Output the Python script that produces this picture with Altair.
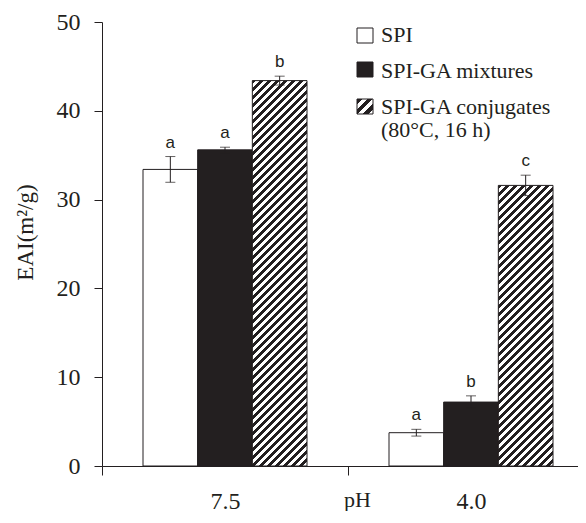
import altair as alt
import pandas as pd

# ---------------- data ----------------
ph_levels = ["7.5", "4.0"]
groups = ["SPI", "SPI-GA mixtures", "SPI-GA conjugates"]
eai_ph75 = [33.4, 35.6, 43.4]
eai_ph40 = [3.75, 7.2, 31.6]
err_ph75 = [1.45, 0.3, 0.5]
err_ph40 = [0.38, 0.7, 1.15]
letters_ph75 = ["a", "a", "b"]
letters_ph40 = ["a", "b", "c"]
y_ticks = [0, 10, 20, 30, 40, 50]
legend_labels = ["SPI", "SPI-GA mixtures", ["SPI-GA conjugates", "(80°C, 16 h)"]]

rows = []
for ph, vals, errs, lets in [("7.5", eai_ph75, err_ph75, letters_ph75),
                             ("4.0", eai_ph40, err_ph40, letters_ph40)]:
    for g, v, e, l in zip(groups, vals, errs, lets):
        rows.append(dict(pH=ph, group=g, eai=v, lo=v - e, hi=v + e, letter=l))
df = pd.DataFrame(rows)

# ---------------- style / layout ----------------
INK = "#231f20"
SERIF = "Liberation Serif"
SANS = "Liberation Sans"
W, H = 476, 444
STEP = 246
PX_PER_UNIT = H / 50.0
BAR_W = STEP / 4.5


def hatch(w, h, period=8.0, black=0.45):
    """Diagonal '/' stripes as a hard-stop linear gradient (bbox units)."""
    n = (w + h) / period
    s = (w + h) / (w * w + h * h)
    stops = []
    k = 0
    while k < n:
        a = k / n
        b = min((k + black) / n, 1.0)
        c = min((k + 1) / n, 1.0)
        stops += [{"offset": a, "color": INK}, {"offset": b, "color": INK}]
        if b < 1.0:
            stops += [{"offset": b, "color": "white"}, {"offset": c, "color": "white"}]
        k += 1
    return {"gradient": "linear", "x1": 0, "y1": 0, "x2": w * s, "y2": h * s, "stops": stops}


x_enc = alt.X(
    "pH:N",
    scale=alt.Scale(domain=ph_levels, range=[0, 2 * STEP], paddingInner=0, paddingOuter=0),
    axis=alt.Axis(
        tickBand="extent", tickSize=9, tickColor=INK, domainColor=INK,
        labelFont=SERIF, labelFontSize=24, labelColor=INK, labelAngle=0, labelPadding=14,
        title="pH", titleFont=SERIF, titleFontSize=22, titleFontWeight="normal",
        titleColor=INK, titleX=255, titleY=40, titleBaseline="alphabetic", titleAlign="center",
    ),
)
xo_enc = alt.XOffset("group:N", scale=alt.Scale(domain=groups, paddingInner=0, paddingOuter=0.75))
y_scale = alt.Scale(domain=[0, 50], nice=False)
y_enc = alt.Y(
    "eai:Q",
    scale=y_scale,
    axis=alt.Axis(
        values=y_ticks, tickSize=8, tickColor=INK, domainColor=INK, grid=False,
        labelFont=SERIF, labelFontSize=24, labelColor=INK, labelPadding=14,
        title="EAI(m²/g)", titleFont=SERIF, titleFontSize=23, titleFontWeight="normal",
        titleColor=INK, titleX=-77, titleY=210, titleBaseline="middle", titleAlign="center",
    ),
)

base = alt.Chart(df)

plain_bars = base.transform_filter(
    alt.FieldOneOfPredicate(field="group", oneOf=groups[:2])
).mark_bar(stroke=INK, strokeWidth=1).encode(
    x=x_enc, xOffset=xo_enc, y=y_enc,
    fill=alt.Fill("group:N", scale=alt.Scale(domain=groups[:2], range=["white", INK]), legend=None),
)

layers = [plain_bars]
for ph, vals in [("7.5", eai_ph75), ("4.0", eai_ph40)]:
    grad = hatch(BAR_W, vals[2] * PX_PER_UNIT)
    layers.append(
        base.transform_filter(
            (alt.datum.group == groups[2]) & (alt.datum.pH == ph)
        ).mark_bar(fill=grad, stroke=INK, strokeWidth=1).encode(x=x_enc, xOffset=xo_enc, y=y_enc)
    )

err_rule = base.mark_rule(color=INK, strokeWidth=1).encode(
    x=x_enc, xOffset=xo_enc, y=alt.Y("lo:Q", scale=y_scale), y2="hi:Q"
)
cap_lo = base.mark_tick(color=INK, size=10, thickness=1).encode(
    x=x_enc, xOffset=xo_enc, y=alt.Y("lo:Q", scale=y_scale)
)
cap_hi = base.mark_tick(color=INK, size=10, thickness=1).encode(
    x=x_enc, xOffset=xo_enc, y=alt.Y("hi:Q", scale=y_scale)
)
letters = base.mark_text(font=SANS, fontSize=17, baseline="alphabetic", dy=-9, color=INK).encode(
    x=x_enc, xOffset=xo_enc, y=alt.Y("hi:Q", scale=y_scale), text="letter:N"
)
layers += [err_rule, cap_lo, cap_hi, letters]

# ---------------- manual legend ----------------
one = pd.DataFrame({"k": [0]})
leg_box_x, leg_box_x2, leg_text_x = 255, 271, 279
box_rows = [(6, 21, "white"), (40, 55, INK), (77, 92, hatch(16, 15, period=10.5, black=0.5))]
text_y = [20, 56, 92]
for (y0, y1, fill), lab, ty in zip(box_rows, legend_labels, text_y):
    layers.append(
        alt.Chart(one).mark_rect(fill=fill, stroke=INK, strokeWidth=1).encode(
            x=alt.value(leg_box_x), x2=alt.value(leg_box_x2), y=alt.value(y0), y2=alt.value(y1)
        )
    )
    layers.append(
        alt.Chart(one).mark_text(
            text=lab, font=SERIF, fontSize=22, color=INK, align="left",
            baseline="alphabetic", lineHeight=23,
        ).encode(x=alt.value(leg_text_x), y=alt.value(ty))
    )

chart = alt.layer(*layers).properties(
    width=W, height=H,
    autosize=alt.AutoSizeParams(type="none"),
    padding={"left": 94, "top": 14, "right": 0, "bottom": 45},
).configure_view(stroke=None)

chart.save("out.html", embed_options={"renderer": "svg", "actions": False})
